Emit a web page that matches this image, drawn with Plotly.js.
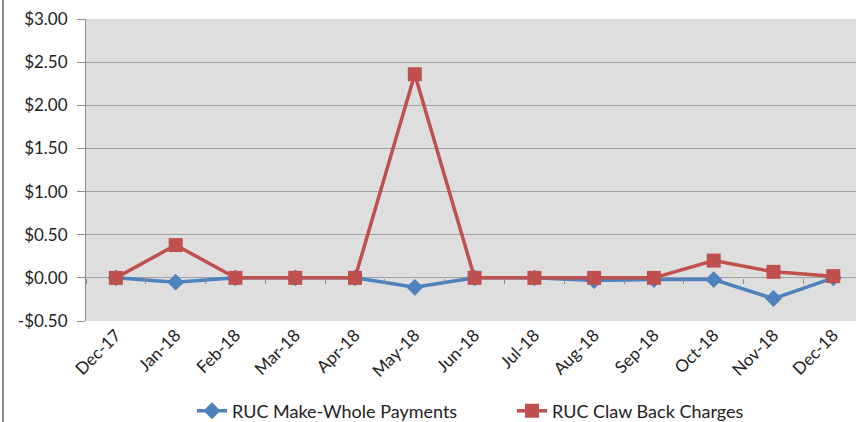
<!DOCTYPE html>
<html><head><meta charset="utf-8">
<script src="https://cdn.plot.ly/plotly-3.0.1.min.js"></script>
<style>html,body{margin:0;padding:0;background:#fff;}#chart{width:856px;height:422px;}</style>
</head><body><div id="chart"></div>
<script>
const categories = ["Dec-17","Jan-18","Feb-18","Mar-18","Apr-18","May-18","Jun-18","Jul-18","Aug-18","Sep-18","Oct-18","Nov-18","Dec-18"];
const makeWhole = [0, -0.05, 0, 0, 0, -0.11, 0, 0, -0.03, -0.02, -0.02, -0.24, 0];
const clawBack = [0, 0.38, 0, 0, 0, 2.36, 0, 0, 0, 0, 0.20, 0.07, 0.02];
const yTickVals = [-0.5, 0, 0.5, 1, 1.5, 2, 2.5, 3];
const yTickText = ["-$0.50","$0.00","$0.50","$1.00","$1.50","$2.00","$2.50","$3.00"];

const font = "Lato, 'Open Sans', sans-serif";
const traces = [
  {x: categories, y: makeWhole, name: "RUC Make-Whole Payments", type: "scatter", mode: "lines+markers",
   line: {color: "#4F81BD", width: 3.5}, marker: {symbol: "diamond", size: 13, color: "#4F81BD"}},
  {x: categories, y: clawBack, name: "RUC Claw Back Charges", type: "scatter", mode: "lines+markers",
   line: {color: "#C0504D", width: 3.5}, marker: {symbol: "square", size: 14, color: "#C0504D"}},
  {x: categories, y: categories.map(() => null), xaxis: "x2", showlegend: false, hoverinfo: "skip", type: "scatter", mode: "lines"}
];
const xr = [-0.5, 12.38];
const layout = {
  width: 856, height: 422,
  margin: {l: 86, r: 0, t: 19, b: 101},
  paper_bgcolor: "#fff", plot_bgcolor: "#DEDEDE",
  font: {family: font, size: 18, color: "#222"},
  showlegend: true,
  legend: {orientation: "h", x: (192-86)/770, xanchor: "left", xref: "paper", yref: "container", y: 0.026, yanchor: "middle",
           entrywidth: 275, font: {size: 18, family: font}, traceorder: "normal"},
  xaxis: {type: "category", range: xr, tickangle: -45, showgrid: false, zeroline: false, showline: false, automargin: false,
          ticks: "", tickfont: {size: 17, family: font}},
  xaxis2: {type: "category", overlaying: "x", anchor: "free", position: (0.5/3.5), range: xr, showticklabels: false, automargin: false,
           tickson: "boundaries", ticks: "outside", ticklen: 5, tickcolor: "#8c8c8c", showgrid: false, showline: false, zeroline: false},
  yaxis: {range: [-0.5, 3], tickvals: yTickVals, ticktext: yTickText, showgrid: true, gridcolor: "#a0a0a0", gridwidth: 1, automargin: false,
          zeroline: false, showline: true, linecolor: "#8c8c8c", ticks: "outside", ticklen: 8, tickcolor: "#8c8c8c",
          ticklabelstandoff: 6, tickfont: {size: 17, family: font}},
  shapes: [{type: "line", xref: "paper", yref: "paper", x0: (3-86)/770, x1: (3-86)/770, y0: -101/302, y1: 1+19/302,
            line: {color: "#8c8c8c", width: 2}}]
};
Plotly.newPlot("chart", traces, layout, {displayModeBar: false, staticPlot: true});
</script></body></html>
